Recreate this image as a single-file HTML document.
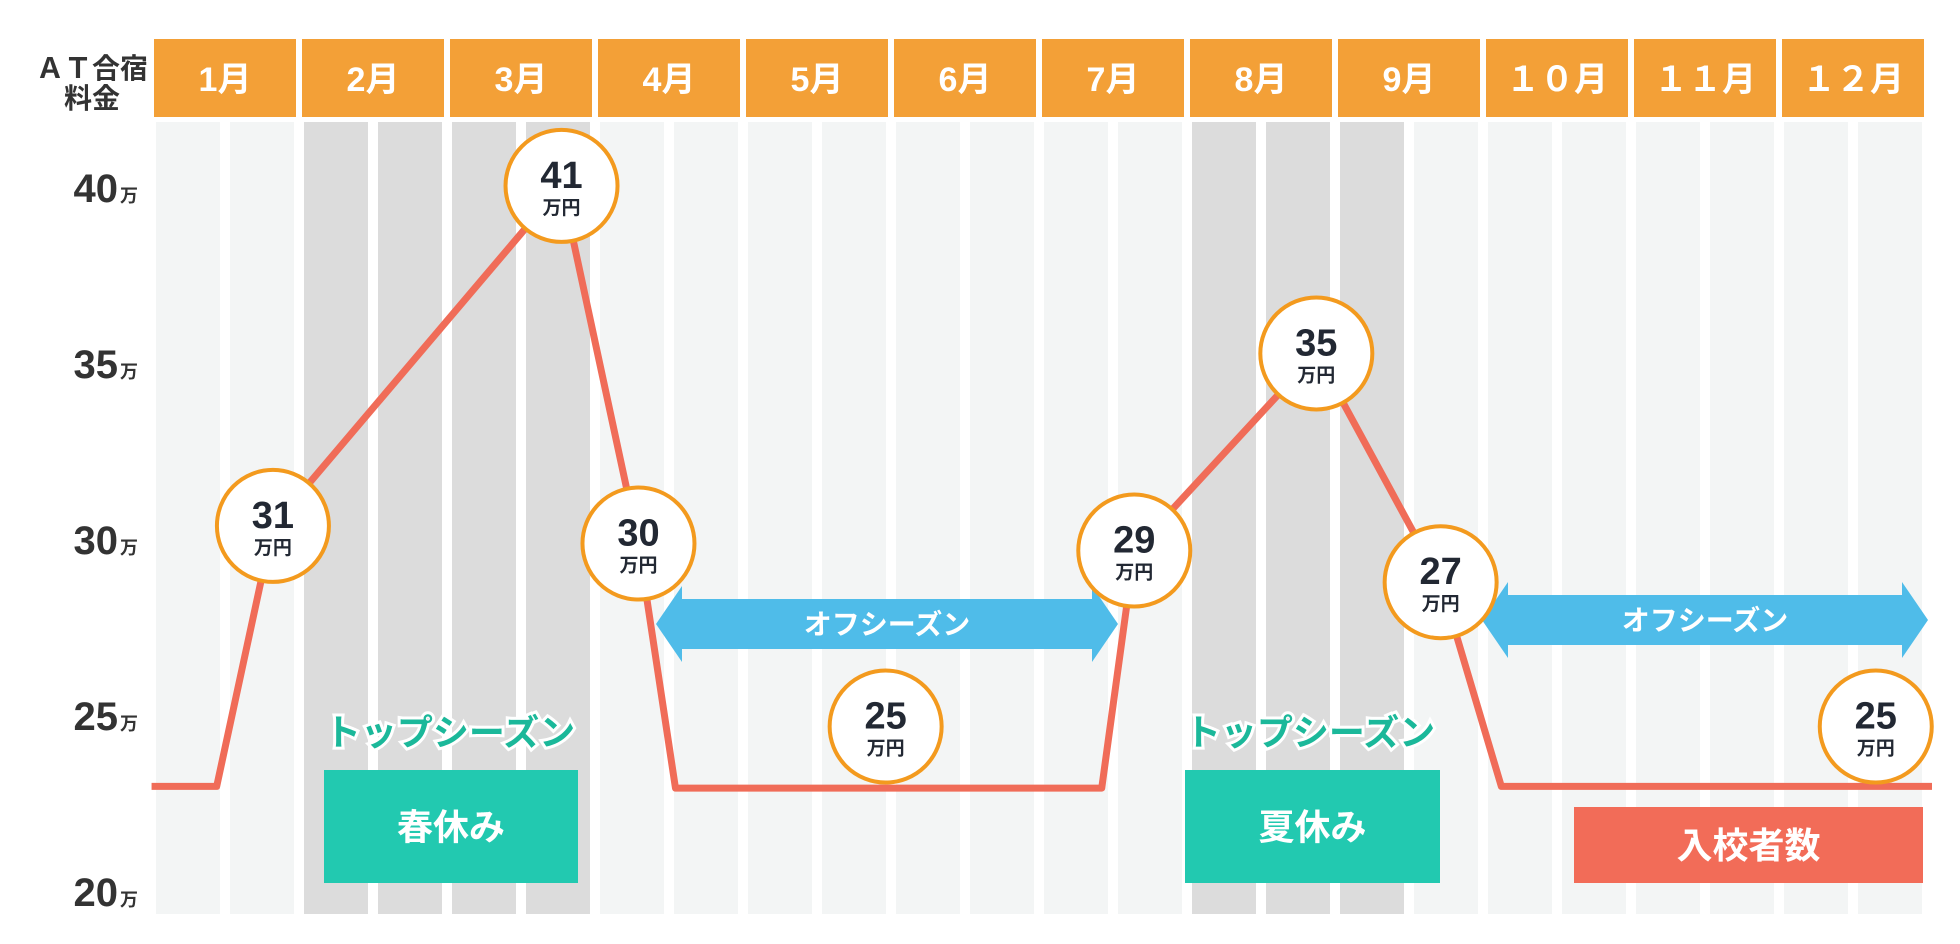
<!DOCTYPE html>
<html><head><meta charset="utf-8">
<style>
html,body{margin:0;padding:0;background:#fff;}
svg{display:block;font-family:"Liberation Sans","Noto Sans CJK JP",sans-serif;}
</style></head>
<body>
<svg id="chart" width="1960" height="944" viewBox="0 0 1960 944" xmlns="http://www.w3.org/2000/svg">
<text x="92" y="78" text-anchor="middle" font-size="28" font-weight="bold" fill="#333">ＡＴ合宿</text>
<text x="92" y="108" text-anchor="middle" font-size="28" font-weight="bold" fill="#333">料金</text>
<g id="stripes"></g>
<g id="header"></g>
<g id="yaxis"></g>
<g id="arrows"></g>
<g id="boxes"></g>
<path id="line" fill="none" stroke="#f06c58" stroke-width="7" stroke-linejoin="round"/>
<g id="circles"></g>
</svg>
<script>
const months = ["1月","2月","3月","4月","5月","6月","7月","8月","9月","１０月","１１月","１２月"];
const grayHalves = [2,3,4,5,14,15,16];
const yTicks = [20,25,30,35,40];
const lineMonths = [-0.03,0.41,0.79,2.74,3.26,3.51,6.39,6.61,7.84,8.68,9.09,12];
const lineValues = [23.0,23.0,30.4,40.06,29.9,22.95,22.95,29.7,35.3,28.8,23.0,23.0];
const priceMonths = [0.79,2.74,3.26,4.93,6.61,7.84,8.68,11.62];
const priceValues = [31,41,30,25,29,35,27,25];
const priceLabelY = [30.4,40.06,29.9,24.7,29.7,35.3,28.8,24.7];

const SVGNS="http://www.w3.org/2000/svg";
const X0=156, MW=148;
function xScale(m){return X0+m*MW;}
function yScale(v){return 892-(v-20)*176/5;}
function mk(tag,attrs,parent,txt){const e=document.createElementNS(SVGNS,tag);for(const k in attrs)e.setAttribute(k,attrs[k]);if(txt!==undefined)e.textContent=txt;parent.appendChild(e);return e;}

const stripesG=document.getElementById('stripes');
for(let h=0;h<24;h++){
  const r=mk('rect',{x:X0+h*74,y:122,width:64,height:792,fill:grayHalves.includes(h)?'#dcdcdc':'#f3f5f5'},stripesG);
  
  
}
const headerG=document.getElementById('header');
months.forEach((m,i)=>{
  const r=mk('rect',{x:xScale(i)-2,y:39,width:142,height:78,fill:'#f3a037'},headerG);
  
  
  const t=mk('text',{x:xScale(i)+69,y:91,'text-anchor':'middle','font-size':34,'font-weight':'bold',fill:'#fff'},headerG,m);
  
  
});
const yaxisG=document.getElementById('yaxis');
yTicks.forEach(v=>{
  const t=mk('text',{x:118,y:yScale(v)+14,'text-anchor':'end','font-size':40,'font-weight':'bold',fill:'#333'},yaxisG,String(v));
  
  
  const u=mk('text',{x:120,y:yScale(v)+14,'font-size':18,'font-weight':'bold',fill:'#333'},yaxisG,'万');
  
  
});
const arrowsG=document.getElementById('arrows');
function drawArrow(x1,x2,cy,name){
  const p=mk('polygon',{points:`${x1},${cy} ${x1+26},${cy-38} ${x1+26},${cy-25} ${x2-26},${cy-25} ${x2-26},${cy-38} ${x2},${cy} ${x2-26},${cy+38} ${x2-26},${cy+25} ${x1+26},${cy+25} ${x1+26},${cy+38}`,fill:'#4fbce9'},arrowsG);
  
  
  const t=mk('text',{x:(x1+x2)/2,y:cy+10,'text-anchor':'middle','font-size':28,'font-weight':'bold',fill:'#fff'},arrowsG,'オフシーズン');
  
  
}
drawArrow(656,1118,624,'off-season-arrow-1');
drawArrow(1482,1928,620,'off-season-arrow-2');
const boxesG=document.getElementById('boxes');
function drawBox(x1,y1,w,h,fill,label,name){
  const r=mk('rect',{x:x1,y:y1,width:w,height:h,fill:fill},boxesG);
  
  
  const t=mk('text',{x:x1+w/2,y:y1+h/2+13,'text-anchor':'middle','font-size':36,'font-weight':'bold',fill:'#fff'},boxesG,label);
  
  
}
function drawTopLabel(cx,name){
  const t=mk('text',{x:cx,y:745,'text-anchor':'middle','font-size':36,'font-weight':'bold',fill:'#1bb89a',stroke:'#fff','stroke-width':6,'paint-order':'stroke'},boxesG,'トップシーズン');
  
  
}
drawTopLabel(450,'top-season-label-spring');
drawTopLabel(1310,'top-season-label-summer');
drawBox(324,770,254,113,'#22c9b0','春休み','spring-break-box');
drawBox(1185,770,255,113,'#22c9b0','夏休み','summer-break-box');
drawBox(1574,807,349,76,'#f26c58','入校者数','enrollment-box');

document.getElementById('line').setAttribute('d',lineMonths.map((m,i)=>(i?'L':'M')+xScale(m)+','+yScale(lineValues[i])).join(' '));

const circlesG=document.getElementById('circles');
priceValues.forEach((v,i)=>{
  const cx=xScale(priceMonths[i]),cy=yScale(priceLabelY[i]);
  const c=mk('circle',{cx:cx,cy:cy,r:56,fill:'#fff',stroke:'#f39a1e','stroke-width':4},circlesG);
  
  
  const t=mk('text',{x:cx,y:cy+2,'text-anchor':'middle','font-size':38,'font-weight':'bold',fill:'#222833'},circlesG,String(v));
  
  
  const u=mk('text',{x:cx,y:cy+28,'text-anchor':'middle','font-size':19,'font-weight':'bold',fill:'#222833'},circlesG,'万円');
  
  
});
</script>
</body></html>
